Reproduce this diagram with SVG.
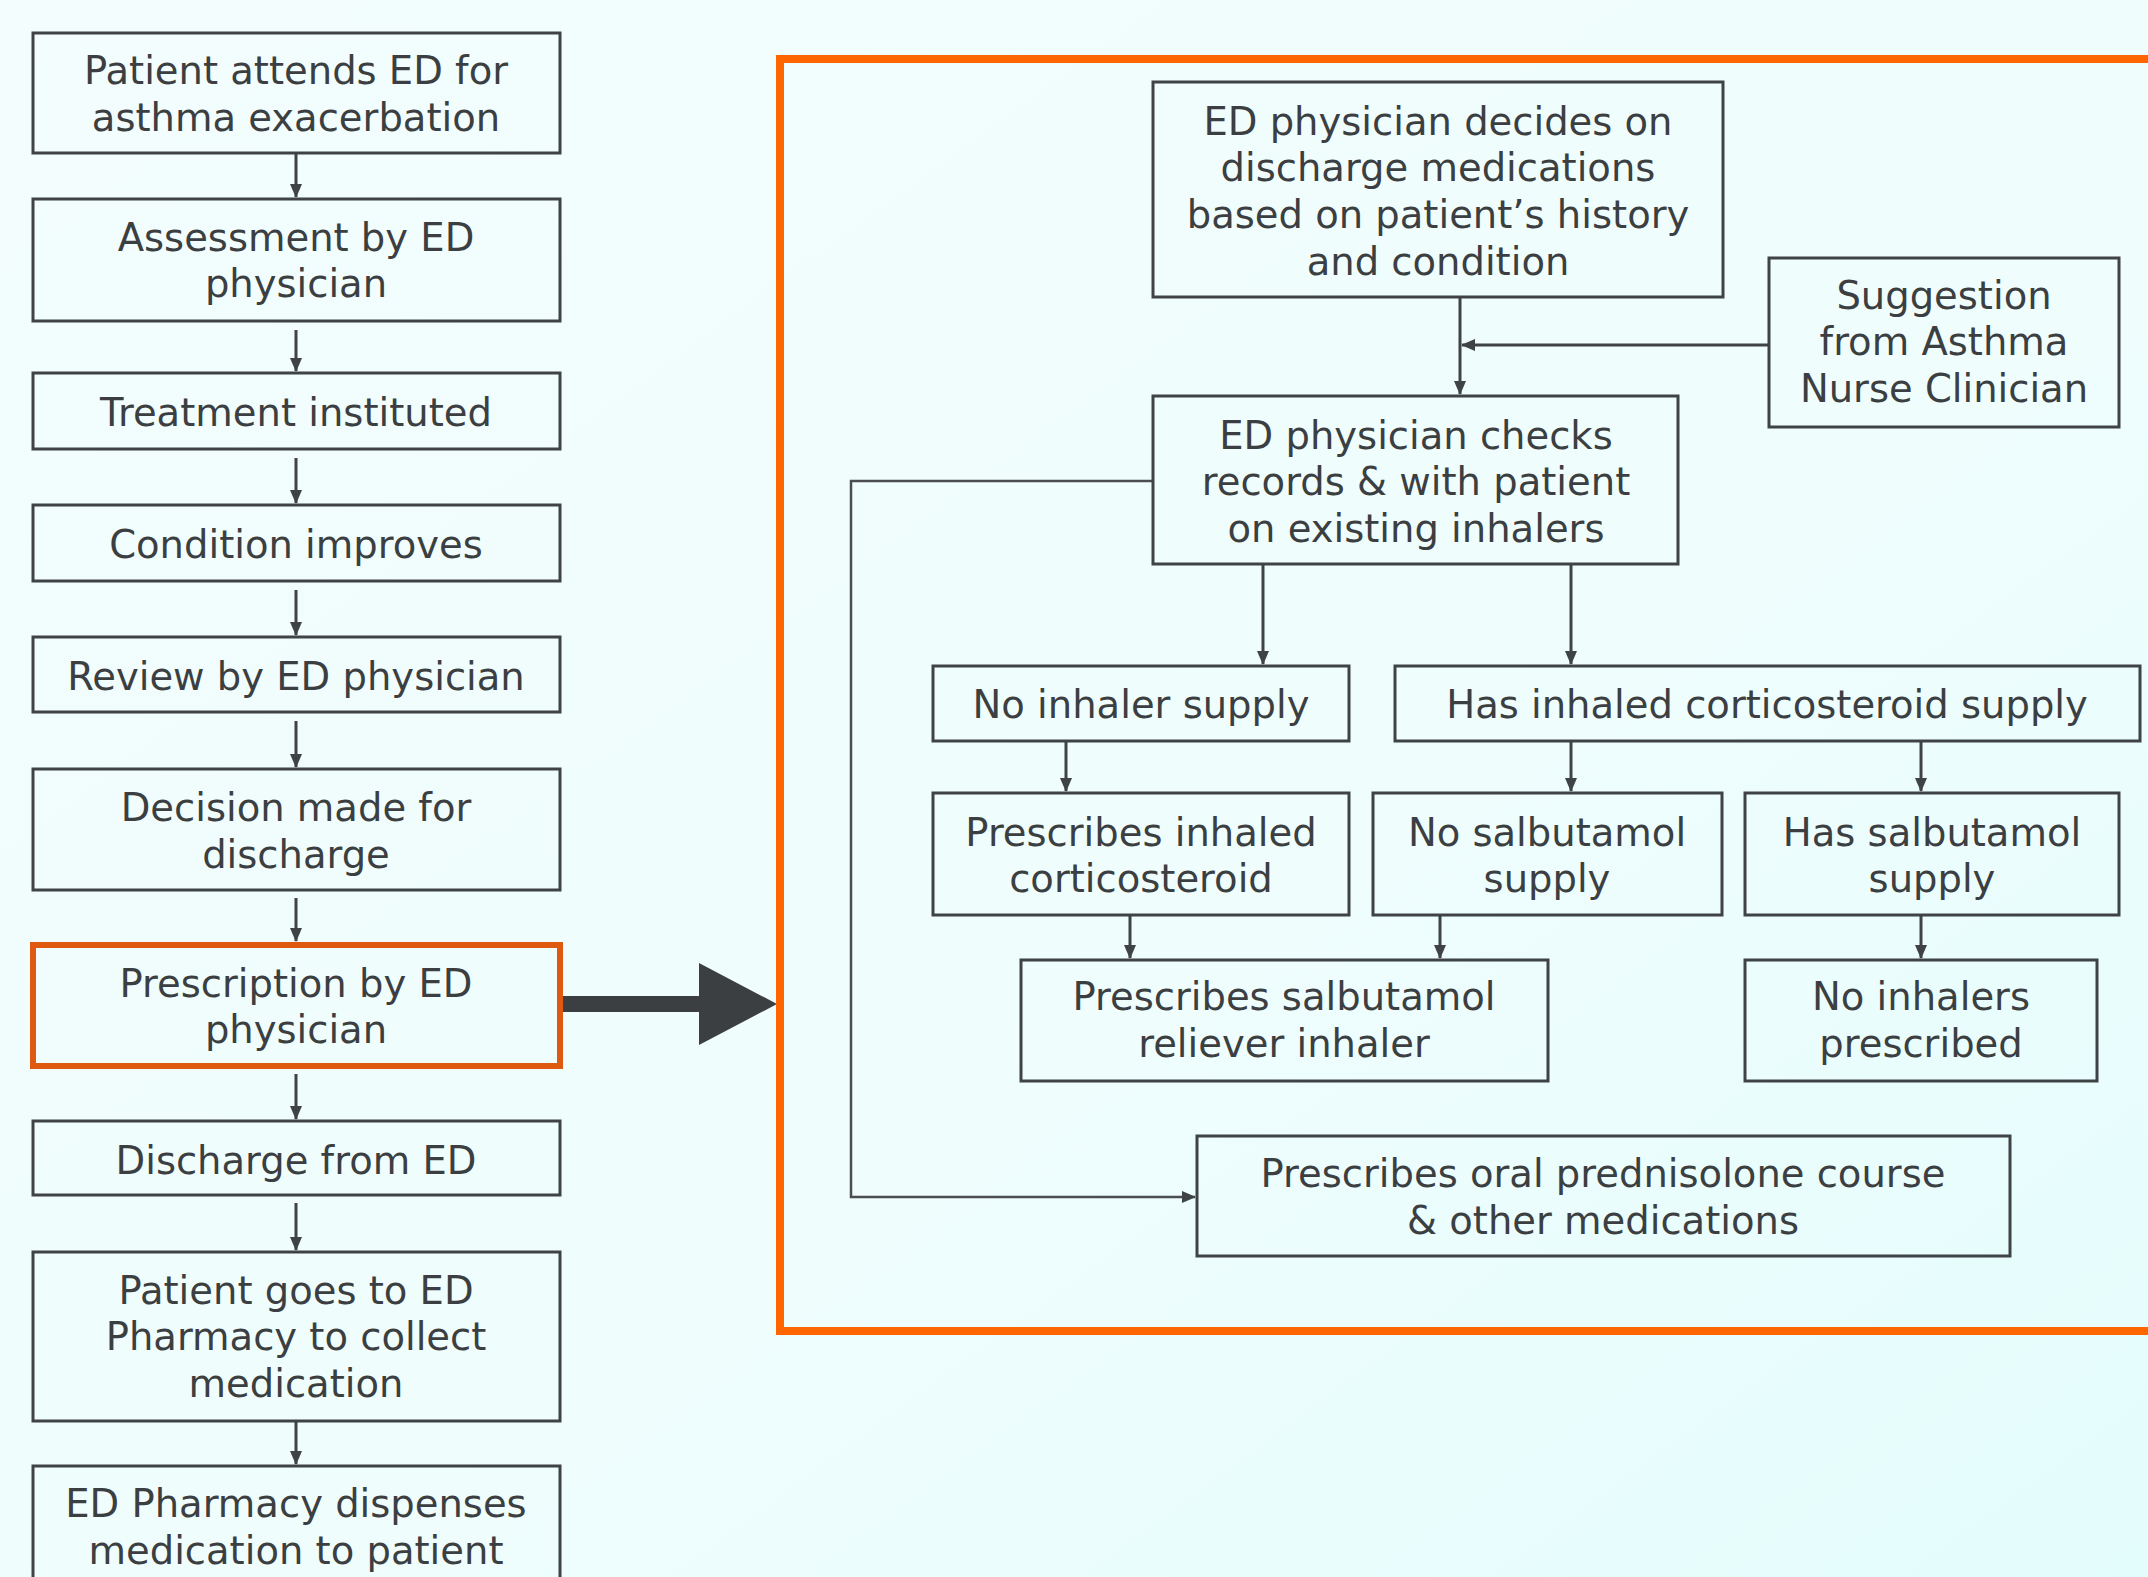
<svg xmlns="http://www.w3.org/2000/svg" width="2148" height="1577" viewBox="0 0 2148 1577">
<defs>
<linearGradient id="bg" x1="0" y1="0" x2="1" y2="1">
<stop offset="0" stop-color="#f3fdfd"/>
<stop offset="0.6" stop-color="#effdfd"/>
<stop offset="1" stop-color="#e3fdfc"/>
</linearGradient>
<marker id="ah" markerUnits="userSpaceOnUse" markerWidth="14" markerHeight="14" viewBox="0 0 14 12" refX="13" refY="6" orient="auto">
<path d="M0,0 L14,6 L0,12 z" fill="#3f4345"/>
</marker>
<style>
.box{fill:none;stroke:#3f4345;stroke-width:3}
.hl{fill:none;stroke:#df5a10;stroke-width:6}
.frame{fill:none;stroke:#ff6600;stroke-width:8}
.t{font-family:"DejaVu Sans","Verdana",sans-serif;font-size:38.5px;fill:#3c3f41;text-anchor:middle}
.c{fill:none;stroke:#3f4345;stroke-width:3;marker-end:url(#ah)}
.c2{fill:none;stroke:#4a4e50;stroke-width:2.5;marker-end:url(#ah)}
</style>
</defs>
<rect width="2148" height="1577" fill="url(#bg)"/>

<g id="connectors">
<path class="c" d="M296,154 V197"/>
<path class="c" d="M296,330 V371"/>
<path class="c" d="M296,458 V503"/>
<path class="c" d="M296,590 V635"/>
<path class="c" d="M296,721 V767"/>
<path class="c" d="M296,898 V941"/>
<path class="c" d="M296,1074 V1119"/>
<path class="c" d="M296,1203 V1250"/>
<path class="c" d="M296,1422 V1464"/>
<polygon points="563,996 699,996 699,963 777,1004 699,1045 699,1012 563,1012" fill="#3c3f41"/>
<path class="c" d="M1460,298 V394"/>
<path class="c" d="M1769,345 H1462"/>
<path class="c2" d="M1153,481 H851 V1197 H1195"/>
<path class="c" d="M1263,565 V664"/>
<path class="c" d="M1571,565 V664"/>
<path class="c" d="M1066,742 V791"/>
<path class="c" d="M1571,742 V791"/>
<path class="c" d="M1921,742 V791"/>
<path class="c" d="M1130,916 V958"/>
<path class="c" d="M1440,916 V958"/>
<path class="c" d="M1921,916 V958"/>
</g>

<g id="n1"><rect class="box" x="33" y="33" width="527" height="120"/><text class="t" x="296" y="84">Patient attends ED for</text><text class="t" x="296" y="131">asthma exacerbation</text></g>
<g id="n2"><rect class="box" x="33" y="199" width="527" height="122"/><text class="t" x="296" y="251">Assessment by ED</text><text class="t" x="296" y="297">physician</text></g>
<g id="n3"><rect class="box" x="33" y="373" width="527" height="76"/><text class="t" x="296" y="426">Treatment instituted</text></g>
<g id="n4"><rect class="box" x="33" y="505" width="527" height="76"/><text class="t" x="296" y="558">Condition improves</text></g>
<g id="n5"><rect class="box" x="33" y="637" width="527" height="75"/><text class="t" x="296" y="690">Review by ED physician</text></g>
<g id="n6"><rect class="box" x="33" y="769" width="527" height="121"/><text class="t" x="296" y="821">Decision made for</text><text class="t" x="296" y="868">discharge</text></g>
<g id="n7"><rect class="hl" x="33" y="945" width="527" height="121"/><text class="t" x="296" y="997">Prescription by ED</text><text class="t" x="296" y="1043">physician</text></g>
<g id="n8"><rect class="box" x="33" y="1121" width="527" height="74"/><text class="t" x="296" y="1174">Discharge from ED</text></g>
<g id="n9"><rect class="box" x="33" y="1252" width="527" height="169"/><text class="t" x="296" y="1304">Patient goes to ED</text><text class="t" x="296" y="1350">Pharmacy to collect</text><text class="t" x="296" y="1397">medication</text></g>
<g id="n10"><rect class="box" x="33" y="1466" width="527" height="140"/><text class="t" x="296" y="1517">ED Pharmacy dispenses</text><text class="t" x="296" y="1564">medication to patient</text></g>

<g id="frame"><rect class="frame" x="780" y="59" width="1400" height="1272"/></g>

<g id="nA"><rect class="box" x="1153" y="82" width="570" height="215"/><text class="t" x="1438" y="135">ED physician decides on</text><text class="t" x="1438" y="181">discharge medications</text><text class="t" x="1438" y="228">based on patient’s history</text><text class="t" x="1438" y="275">and condition</text></g>
<g id="nB"><rect class="box" x="1769" y="258" width="350" height="169"/><text class="t" x="1944" y="309">Suggestion</text><text class="t" x="1944" y="355">from Asthma</text><text class="t" x="1944" y="402">Nurse Clinician</text></g>
<g id="nC"><rect class="box" x="1153" y="396" width="525" height="168"/><text class="t" x="1416" y="449">ED physician checks</text><text class="t" x="1416" y="495">records &amp; with patient</text><text class="t" x="1416" y="542">on existing inhalers</text></g>
<g id="nD"><rect class="box" x="933" y="666" width="416" height="75"/><text class="t" x="1141" y="718">No inhaler supply</text></g>
<g id="nE"><rect class="box" x="1395" y="666" width="745" height="75"/><text class="t" x="1767" y="718">Has inhaled corticosteroid supply</text></g>
<g id="nF"><rect class="box" x="933" y="793" width="416" height="122"/><text class="t" x="1141" y="846">Prescribes inhaled</text><text class="t" x="1141" y="892">corticosteroid</text></g>
<g id="nG"><rect class="box" x="1373" y="793" width="349" height="122"/><text class="t" x="1547" y="846">No salbutamol</text><text class="t" x="1547" y="892">supply</text></g>
<g id="nH"><rect class="box" x="1745" y="793" width="374" height="122"/><text class="t" x="1932" y="846">Has salbutamol</text><text class="t" x="1932" y="892">supply</text></g>
<g id="nI"><rect class="box" x="1021" y="960" width="527" height="121"/><text class="t" x="1284" y="1010">Prescribes salbutamol</text><text class="t" x="1284" y="1057">reliever inhaler</text></g>
<g id="nJ"><rect class="box" x="1745" y="960" width="352" height="121"/><text class="t" x="1921" y="1010">No inhalers</text><text class="t" x="1921" y="1057">prescribed</text></g>
<g id="nK"><rect class="box" x="1197" y="1136" width="813" height="120"/><text class="t" x="1603" y="1187">Prescribes oral prednisolone course</text><text class="t" x="1603" y="1234">&amp; other medications</text></g>
</svg>
